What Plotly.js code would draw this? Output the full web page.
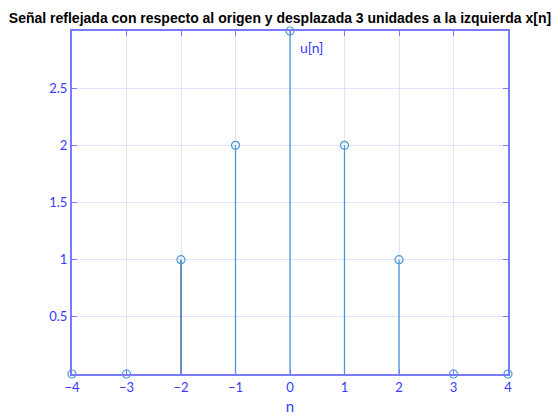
<!DOCTYPE html>
<html><head><meta charset="utf-8">
<script src="https://cdn.plot.ly/plotly-3.0.1.min.js"></script>
<style>html,body{margin:0;padding:0;background:#fff}#c{width:560px;height:420px}</style>
</head><body><div id="c"></div>
<script>
const n = [-4, -3, -2, -1, 0, 1, 2, 3, 4];
const u = [0, 0, 1, 2, 3, 2, 1, 0, 0];
const xTicks = [-4, -3, -2, -1, 0, 1, 2, 3, 4];
const yTicks = [0.5, 1, 1.5, 2, 2.5];
const titleText = 'Señal reflejada con respecto al origen y desplazada 3 unidades a la izquierda x[n]';
const stemColor = '#4a9ad6';
const darkStem = '#1d5f94';

const sx = [], sy = [], dx = [], dy = [];
n.forEach((v, i) => {
  if (v === -2) { dx.push(v, v, null); dy.push(0, u[i], null); }
  else { sx.push(v, v, null); sy.push(0, u[i], null); }
});

const traces = [
  {x: sx, y: sy, mode: 'lines', line: {color: stemColor, width: 1.3}, hoverinfo: 'skip', showlegend: false},
  {x: dx, y: dy, mode: 'lines', line: {color: darkStem, width: 1.3}, hoverinfo: 'skip', showlegend: false},
  {x: n, y: u, mode: 'markers', marker: {symbol: 'circle-open', size: 8, color: stemColor, line: {width: 1.2}}, showlegend: false, cliponaxis: false}
];

const axCommon = {
  showline: true, mirror: 'ticks', linecolor: '#7a7aff', linewidth: 2,
  ticks: 'inside', ticklen: 5, tickcolor: '#7a7aff',
  showgrid: true, gridcolor: '#e2e2ff', gridwidth: 1, zeroline: false,
  tickfont: {family: 'Lato, sans-serif', size: 13, color: '#3a3aff'}
};

const layout = {
  width: 560, height: 420,
  margin: {l: 72, r: 52, t: 31, b: 46},
  paper_bgcolor: '#fff', plot_bgcolor: '#fff',
  title: {text: '<b>' + titleText + '</b>', x: 0.5, xanchor: 'center', y: 0.957, yanchor: 'middle',
    font: {family: 'Liberation Sans, Arial, sans-serif', size: 14, color: '#000'}},
  xaxis: Object.assign({}, axCommon, {range: [-4, 4], tickvals: xTicks,
    title: {text: 'n', standoff: 8, font: {family: 'Lato, sans-serif', size: 15, color: '#3a3aff'}}}),
  yaxis: Object.assign({}, axCommon, {range: [0, 3], tickvals: yTicks}),
  annotations: [{x: 0.15, y: 2.86, xref: 'x', yref: 'y', text: 'u[n]', showarrow: false, xanchor: 'left', yanchor: 'middle',
    font: {family: 'Lato, sans-serif', size: 14, color: '#3a3aff'}}]
};

Plotly.newPlot('c', traces, layout, {displayModeBar: false, staticPlot: true});
</script></body></html>
